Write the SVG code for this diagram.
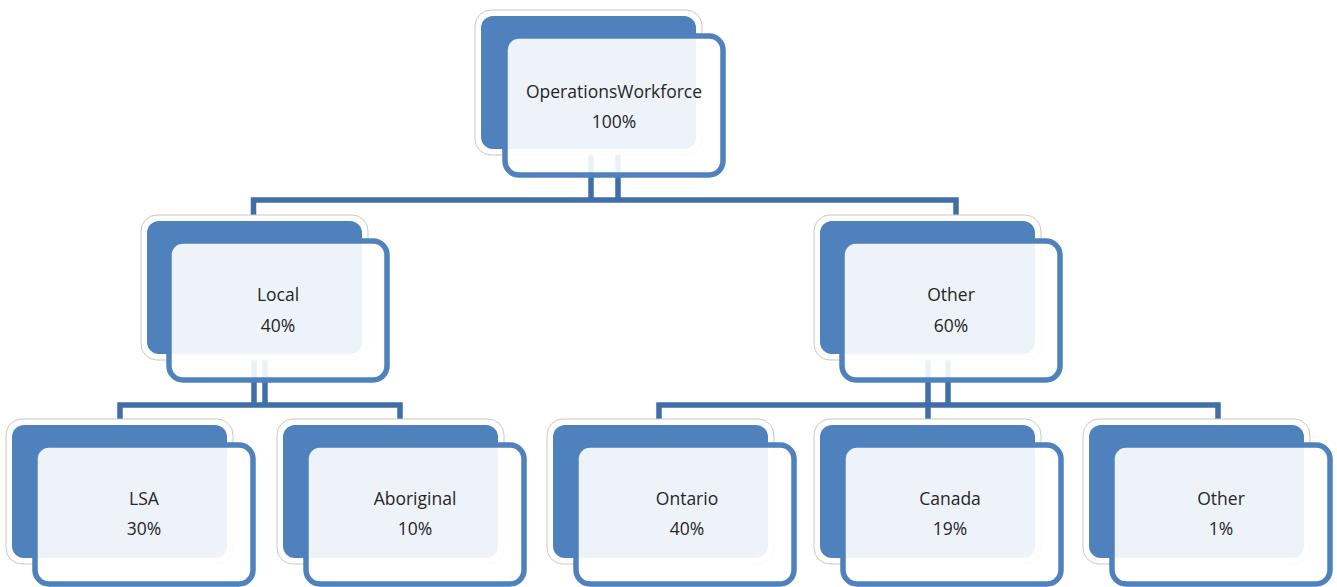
<svg xmlns="http://www.w3.org/2000/svg" width="1337" height="587" viewBox="0 0 1337 587">
<style>
.halo{fill:#ffffff;stroke:#c8c8c8;stroke-width:1}
.back{fill:#4f81bd}
.front{fill:#ffffff;fill-opacity:0.9;stroke:#4f81bd;stroke-width:5.5}
.conn{fill:none;stroke:#3f6ea8;stroke-width:5.5;stroke-linejoin:miter}
.t{font-family:"Open Sans","Liberation Sans",sans-serif;font-size:17.5px;fill:#262626;text-anchor:middle}
</style>
<rect width="1337" height="587" fill="#ffffff"/>
<g id="connectors">
<path class="conn" d="M253.5,221 V200 H956 V221"/>
<path class="conn" d="M591,150 V200 M618,150 V200"/>
<path class="conn" d="M120,425 V405 H400 V425"/>
<path class="conn" d="M254,354 V405 M265,354 V405"/>
<path class="conn" d="M659,425 V405 H1218 V425"/>
<path class="conn" d="M928,354 V425 M948,354 V405"/>
</g>
<g id="node-root">
<rect class="halo" x="475" y="10" width="227" height="145" rx="16"/>
<rect class="back" x="481" y="16" width="215" height="133" rx="12"/>
<rect class="front" x="505" y="36" width="218" height="139" rx="14"/>
<text class="t" x="614" y="98">OperationsWorkforce</text>
<text class="t" x="614" y="128">100%</text>
</g>
<g id="node-local">
<rect class="halo" x="141" y="215" width="227" height="145" rx="16"/>
<rect class="back" x="147" y="221" width="215" height="133" rx="12"/>
<rect class="front" x="169" y="241" width="218" height="139" rx="14"/>
<text class="t" x="278" y="301">Local</text>
<text class="t" x="278" y="332">40%</text>
</g>
<g id="node-other">
<rect class="halo" x="814" y="215" width="227" height="145" rx="16"/>
<rect class="back" x="820" y="221" width="215" height="133" rx="12"/>
<rect class="front" x="842" y="241" width="218" height="139" rx="14"/>
<text class="t" x="951" y="301">Other</text>
<text class="t" x="951" y="332">60%</text>
</g>
<g id="node-lsa">
<rect class="halo" x="6" y="419" width="227" height="145" rx="16"/>
<rect class="back" x="12" y="425" width="215" height="133" rx="12"/>
<rect class="front" x="35" y="445" width="218" height="139" rx="14"/>
<text class="t" x="144" y="505">LSA</text>
<text class="t" x="144" y="535">30%</text>
</g>
<g id="node-aboriginal">
<rect class="halo" x="277" y="419" width="227" height="145" rx="16"/>
<rect class="back" x="283" y="425" width="215" height="133" rx="12"/>
<rect class="front" x="306" y="445" width="218" height="139" rx="14"/>
<text class="t" x="415" y="505">Aboriginal</text>
<text class="t" x="415" y="535">10%</text>
</g>
<g id="node-ontario">
<rect class="halo" x="547" y="419" width="227" height="145" rx="16"/>
<rect class="back" x="553" y="425" width="215" height="133" rx="12"/>
<rect class="front" x="576" y="445" width="218" height="139" rx="14"/>
<text class="t" x="687" y="505">Ontario</text>
<text class="t" x="687" y="535">40%</text>
</g>
<g id="node-canada">
<rect class="halo" x="814" y="419" width="227" height="145" rx="16"/>
<rect class="back" x="820" y="425" width="215" height="133" rx="12"/>
<rect class="front" x="843" y="445" width="218" height="139" rx="14"/>
<text class="t" x="950" y="505">Canada</text>
<text class="t" x="950" y="535">19%</text>
</g>
<g id="node-other2">
<rect class="halo" x="1083" y="419" width="227" height="145" rx="16"/>
<rect class="back" x="1089" y="425" width="215" height="133" rx="12"/>
<rect class="front" x="1112" y="445" width="218" height="139" rx="14"/>
<text class="t" x="1221" y="505">Other</text>
<text class="t" x="1221" y="535">1%</text>
</g>
</svg>
